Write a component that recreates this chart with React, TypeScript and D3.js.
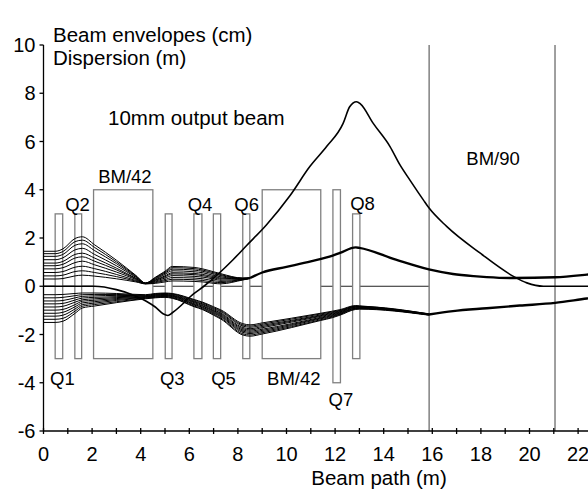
import React from 'react';
import * as d3 from 'd3';

const W = 588;
const H = 490;

// beamline elements (m along the path, envelope-axis units for heights)
const magnetNames = ['Q1', 'Q2', 'BM/42', 'Q3', 'Q4', 'Q5', 'Q6', 'BM/42', 'Q7', 'Q8'];
const magnetStart = [0.48, 1.29, 2.06, 5.01, 6.19, 6.99, 8.2, 9.0, 11.91, 12.72];
const magnetEnd = [0.79, 1.57, 4.5, 5.29, 6.52, 7.29, 8.49, 11.41, 12.22, 13.02];
const magnetTop = [3, 3, 4, 3, 3, 3, 3, 4, 4, 3];
const magnetBottom = [-3, -3, -3, -3, -3, -3, -3, -3, -4, -3];
const labelX = [0.78, 1.4, 3.35, 5.3, 6.44, 7.41, 8.36, 10.3, 12.24, 13.13];
const labelY = [-4.1, 3.12, 4.28, -4.1, 3.12, -4.1, 3.12, -4.1, -4.95, 3.16];

const bm90Edges = [15.87, 21.05];
const bm90Label = [18.5, 5.03];

// horizontal envelopes, one row per knot, ten rays per row
const upperKnots = [0, 0.48, 0.8, 1.3, 1.6, 2.1, 3.0, 3.8, 4.2, 4.6, 5.0, 5.3, 6.2, 6.55, 7.0, 7.3, 8.2, 8.5];
const upperEnv = [
  [1.45, 1.35, 1.24, 1.1, 0.96, 0.85, 0.72, 0.57, 0.43, 0.3],
  [1.45, 1.35, 1.24, 1.1, 0.96, 0.85, 0.72, 0.57, 0.43, 0.3],
  [1.55, 1.44, 1.32, 1.18, 1.03, 0.91, 0.77, 0.61, 0.46, 0.32],
  [1.98, 1.85, 1.7, 1.51, 1.32, 1.17, 0.98, 0.79, 0.61, 0.43],
  [2.05, 1.91, 1.76, 1.57, 1.37, 1.22, 1.04, 0.83, 0.64, 0.46],
  [1.72, 1.61, 1.48, 1.32, 1.17, 1.04, 0.89, 0.73, 0.57, 0.42],
  [1.08, 1.01, 0.94, 0.85, 0.75, 0.68, 0.59, 0.49, 0.4, 0.31],
  [0.45, 0.43, 0.4, 0.37, 0.33, 0.31, 0.28, 0.24, 0.21, 0.18],
  [0.13, 0.13, 0.13, 0.12, 0.12, 0.12, 0.11, 0.11, 0.1, 0.1],
  [0.37, 0.35, 0.32, 0.29, 0.26, 0.24, 0.21, 0.18, 0.15, 0.12],
  [0.62, 0.58, 0.54, 0.49, 0.43, 0.39, 0.34, 0.28, 0.23, 0.18],
  [0.82, 0.77, 0.71, 0.64, 0.56, 0.51, 0.44, 0.36, 0.29, 0.22],
  [0.78, 0.73, 0.67, 0.6, 0.53, 0.48, 0.41, 0.34, 0.27, 0.2],
  [0.72, 0.67, 0.62, 0.56, 0.49, 0.44, 0.38, 0.31, 0.24, 0.18],
  [0.6, 0.56, 0.51, 0.45, 0.4, 0.35, 0.3, 0.23, 0.17, 0.12],
  [0.52, 0.48, 0.44, 0.39, 0.34, 0.3, 0.25, 0.2, 0.15, 0.1],
  [0.34, 0.33, 0.33, 0.32, 0.31, 0.3, 0.29, 0.28, 0.27, 0.26],
  [0.35, 0.35, 0.34, 0.34, 0.34, 0.33, 0.33, 0.33, 0.32, 0.32],
];
const upperTailX = [8.5, 9.0, 10.0, 11.0, 11.9, 12.2, 12.85, 13.0, 14.5, 15.86, 16.85, 17.7, 18.24, 19.34, 21.05, 22.36, 23.0];
const upperTailY = [0.34, 0.57, 0.8, 1.03, 1.27, 1.38, 1.61, 1.59, 1.1, 0.7, 0.51, 0.42, 0.38, 0.34, 0.37, 0.48, 0.55];

// vertical envelopes (drawn negative)
const lowerKnots = [0, 0.48, 0.8, 1.3, 1.6, 2.1, 3.0, 4.2, 4.6, 5.0, 5.3, 6.2, 6.55, 7.0, 7.3, 8.2, 8.5, 9.0, 11.4, 11.9, 12.2, 12.85, 13.0, 15.86];
const lowerEnv = [
  [-0.35, -0.48, -0.61, -0.73, -0.86, -0.99, -1.12, -1.24, -1.37, -1.5],
  [-0.35, -0.48, -0.61, -0.73, -0.86, -0.99, -1.12, -1.24, -1.37, -1.5],
  [-0.34, -0.46, -0.59, -0.71, -0.83, -0.96, -1.08, -1.2, -1.33, -1.45],
  [-0.3, -0.39, -0.48, -0.57, -0.66, -0.76, -0.85, -0.94, -1.03, -1.12],
  [-0.28, -0.35, -0.42, -0.49, -0.56, -0.62, -0.69, -0.76, -0.83, -0.9],
  [-0.28, -0.34, -0.4, -0.46, -0.52, -0.58, -0.64, -0.7, -0.76, -0.82],
  [-0.3, -0.34, -0.38, -0.43, -0.47, -0.51, -0.55, -0.59, -0.64, -0.68],
  [-0.35, -0.37, -0.39, -0.41, -0.43, -0.44, -0.46, -0.48, -0.5, -0.52],
  [-0.3, -0.32, -0.34, -0.36, -0.38, -0.4, -0.42, -0.44, -0.46, -0.48],
  [-0.28, -0.3, -0.32, -0.34, -0.36, -0.38, -0.4, -0.42, -0.44, -0.46],
  [-0.3, -0.32, -0.34, -0.37, -0.39, -0.41, -0.43, -0.46, -0.48, -0.5],
  [-0.55, -0.58, -0.62, -0.65, -0.68, -0.72, -0.75, -0.78, -0.82, -0.85],
  [-0.66, -0.69, -0.73, -0.76, -0.8, -0.83, -0.87, -0.9, -0.94, -0.97],
  [-0.85, -0.89, -0.93, -0.97, -1.01, -1.04, -1.08, -1.12, -1.16, -1.2],
  [-0.98, -1.02, -1.06, -1.11, -1.15, -1.19, -1.23, -1.27, -1.32, -1.36],
  [-1.55, -1.6, -1.65, -1.71, -1.76, -1.81, -1.86, -1.91, -1.97, -2.02],
  [-1.6, -1.65, -1.7, -1.76, -1.81, -1.86, -1.91, -1.96, -2.02, -2.07],
  [-1.52, -1.57, -1.62, -1.67, -1.72, -1.78, -1.83, -1.88, -1.93, -1.98],
  [-1.12, -1.15, -1.19, -1.22, -1.25, -1.29, -1.32, -1.35, -1.39, -1.42],
  [-1.03, -1.06, -1.09, -1.12, -1.15, -1.18, -1.21, -1.24, -1.27, -1.3],
  [-0.97, -1.0, -1.02, -1.05, -1.07, -1.1, -1.12, -1.15, -1.17, -1.2],
  [-0.8, -0.82, -0.84, -0.85, -0.87, -0.89, -0.91, -0.92, -0.94, -0.96],
  [-0.81, -0.83, -0.84, -0.86, -0.87, -0.89, -0.9, -0.92, -0.93, -0.95],
  [-1.14, -1.15, -1.15, -1.16, -1.17, -1.17, -1.18, -1.19, -1.19, -1.2],
];
const lowerTailX = [15.86, 16.85, 18.24, 19.6, 21.05, 22.36, 23.0];
const lowerTailY = [-1.17, -1.03, -0.91, -0.8, -0.69, -0.51, -0.43];

// dispersion (m)
const dispX = [0, 2.1, 3.0, 3.6, 4.23, 4.6, 4.92, 5.12, 5.3, 6.2, 6.6, 7.8, 8.35, 9.18, 10.14, 10.96, 11.65, 12.33, 12.6, 12.88, 13.05, 13.57, 14.26, 14.67, 15.08, 15.63, 15.86, 16.59, 17.96, 19.34, 19.89, 20.57, 23.0];
const dispY = [0, 0, -0.14, -0.33, -0.62, -0.86, -1.14, -1.21, -1.1, -0.3, 0, 1.1, 1.68, 2.55, 3.75, 4.96, 5.79, 6.75, 7.44, 7.65, 7.55, 6.75, 5.79, 5.03, 4.4, 3.58, 3.25, 2.48, 1.38, 0.41, 0.14, 0, 0];

const yTicks = [-6, -4, -2, 0, 2, 4, 6, 8, 10];
const font = 'Liberation Sans, Arial, sans-serif';

export default function App() {
  const x = d3.scaleLinear().domain([0, 22]).range([43.5, 578.1]);
  const y = d3.scaleLinear().domain([-6, 10]).range([431, 45]);

  const line = d3
    .line<[number, number]>()
    .x(d => x(d[0]))
    .y(d => y(d[1]))
    .curve(d3.curveMonotoneX);

  const upperRays = d3.range(10).map(i => upperKnots.map((k, j) => [k, upperEnv[j][i]] as [number, number]));
  const lowerRays = d3.range(10).map(i => lowerKnots.map((k, j) => [k, lowerEnv[j][i]] as [number, number]));
  const upperTail = upperTailX.map((k, i) => [k, upperTailY[i]] as [number, number]);
  const lowerTail = lowerTailX.map((k, i) => [k, lowerTailY[i]] as [number, number]);
  const disp = dispX.map((k, i) => [k, dispY[i]] as [number, number]);

  const xTicks = x.ticks(22);

  return (
    <svg
      width={W}
      height={H}
      style={{ position: 'fixed', left: 0, top: 0, background: '#fff' }}
      fontFamily={font}
    >
      <defs>
        <clipPath id="plot">
          <rect x={x(0)} y={0} width={W - x(0)} height={y(-6)} />
        </clipPath>
      </defs>

      {/* zero reference line up to the 90 degree magnet */}
      <line x1={x(0)} x2={x(bm90Edges[0])} y1={y(0)} y2={y(0)} stroke="#222" strokeWidth={1} />

      {/* beamline elements */}
      {magnetNames.map((n, i) => (
        <rect
          key={'m' + i}
          x={x(magnetStart[i])}
          y={y(magnetTop[i])}
          width={x(magnetEnd[i]) - x(magnetStart[i])}
          height={y(magnetBottom[i]) - y(magnetTop[i])}
          fill="#fff"
          stroke="#808080"
          strokeWidth={1.3}
        />
      ))}
      {bm90Edges.map((e, i) => (
        <line key={'b' + i} x1={x(e)} x2={x(e)} y1={y(10)} y2={y(-6)} stroke="#808080" strokeWidth={1.5} />
      ))}

      <g clipPath="url(#plot)" fill="none" stroke="#000">
        {upperRays.map((r, i) => (
          <path key={'u' + i} d={line(r) || ''} strokeWidth={1} />
        ))}
        {lowerRays.map((r, i) => (
          <path key={'l' + i} d={line(r) || ''} strokeWidth={1} />
        ))}
        <path d={line(upperTail) || ''} strokeWidth={2.4} />
        <path d={line(lowerTail) || ''} strokeWidth={2.4} />
        <path d={line(disp) || ''} strokeWidth={1.6} />
      </g>

      {/* element labels */}
      {magnetNames.map((n, i) => (
        <text key={'t' + i} x={x(labelX[i])} y={y(labelY[i])} fontSize={18.5} textAnchor="middle" fill="#000">
          {n}
        </text>
      ))}
      <text x={x(bm90Label[0])} y={y(bm90Label[1])} fontSize={18.5} textAnchor="middle">
        BM/90
      </text>

      {/* axes */}
      <line x1={x(0)} x2={x(0)} y1={y(10)} y2={y(-6)} stroke="#000" strokeWidth={1.3} />
      <line x1={x(0)} x2={W} y1={y(-6)} y2={y(-6)} stroke="#000" strokeWidth={1.3} />
      {yTicks.map(t => (
        <g key={'yt' + t}>
          <line x1={x(0) - 4} x2={x(0)} y1={y(t)} y2={y(t)} stroke="#000" strokeWidth={1.3} />
          <text x={x(0) - 8} y={y(t) + 7} fontSize={20} textAnchor="end">
            {t}
          </text>
        </g>
      ))}
      {xTicks.map(t => (
        <g key={'xt' + t}>
          <line x1={x(t)} x2={x(t)} y1={y(-6) - 3} y2={y(-6) + 3} stroke="#000" strokeWidth={1.3} />
          {t % 2 === 0 && (
            <text x={x(t)} y={y(-6) + 30} fontSize={20} textAnchor="middle">
              {t}
            </text>
          )}
        </g>
      ))}

      <text x={379} y={485} fontSize={20.5} textAnchor="middle">
        Beam path (m)
      </text>
      <text x={53} y={42} fontSize={20.5}>
        Beam envelopes (cm)
      </text>
      <text x={53} y={65} fontSize={20.5}>
        Dispersion (m)
      </text>
      <text x={108} y={125} fontSize={20.5}>
        10mm output beam
      </text>
    </svg>
  );
}
